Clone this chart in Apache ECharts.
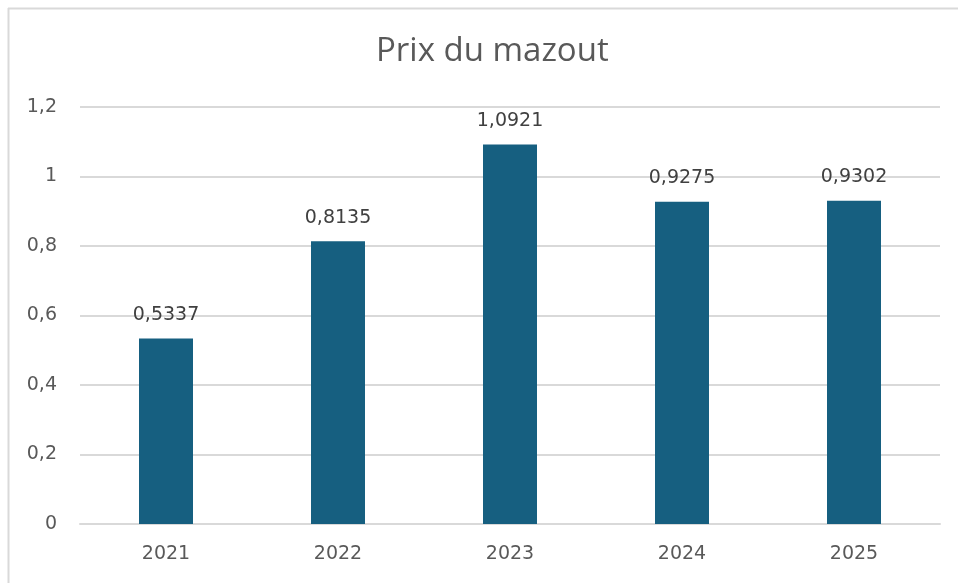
<!DOCTYPE html>
<html>
<head>
<meta charset="utf-8">
<script src="https://cdn.jsdelivr.net/npm/echarts@6/dist/echarts.min.js"></script>
<style>
  html, body { margin: 0; padding: 0; background: #fff; }
  #chart { width: 958px; height: 583px; }
</style>
</head>
<body>
<div id="chart"></div>
<script>
// données
const years = ["2021", "2022", "2023", "2024", "2025"];
const prices = [0.5337, 0.8135, 1.0921, 0.9275, 0.9302];
const yTicks = { min: 0, max: 1.2, step: 0.2 };

const comma = (v) => String(v).replace(".", ",");

const chart = echarts.init(document.getElementById("chart"));
chart.setOption({
  animation: false,
  backgroundColor: "#fff",
  textStyle: { fontFamily: "'DejaVu Sans', sans-serif" },
  title: {
    text: "Prix du mazout",
    left: 371,
    top: 30,
    textStyle: { color: "#595959", fontSize: 33, fontWeight: "normal", fontFamily: "'Open Sans', sans-serif" }
  },
  graphic: [
    { type: "line", shape: { x1: 8, y1: 8.5, x2: 958, y2: 8.5 }, style: { stroke: "#d9d9d9", lineWidth: 2 } },
    { type: "line", shape: { x1: 8.5, y1: 8, x2: 8.5, y2: 583 }, style: { stroke: "#d9d9d9", lineWidth: 2 } }
  ],
  grid: { left: 80, right: 18, top: 107, bottom: 59, containLabel: false },
  xAxis: {
    type: "category",
    data: years,
    axisLine: { lineStyle: { color: "#d9d9d9", width: 2 } },
    axisTick: { show: false },
    axisLabel: { color: "#595959", fontSize: 19, margin: 21 }
  },
  yAxis: {
    type: "value",
    min: yTicks.min,
    max: yTicks.max,
    interval: yTicks.step,
    axisLine: { show: false },
    axisTick: { show: false },
    splitLine: { lineStyle: { color: "#d9d9d9", width: 2 } },
    axisLabel: {
      color: "#595959",
      fontSize: 19,
      margin: 23,
      formatter: (v) => comma(Math.round(v * 10) / 10)
    }
  },
  series: [{
    type: "bar",
    data: prices,
    barWidth: 54,
    itemStyle: { color: "#165f80" },
    label: {
      show: true,
      position: "top",
      distance: 14,
      color: "#404040",
      fontSize: 19,
      formatter: (p) => comma(p.value)
    }
  }]
});
</script>
</body>
</html>
